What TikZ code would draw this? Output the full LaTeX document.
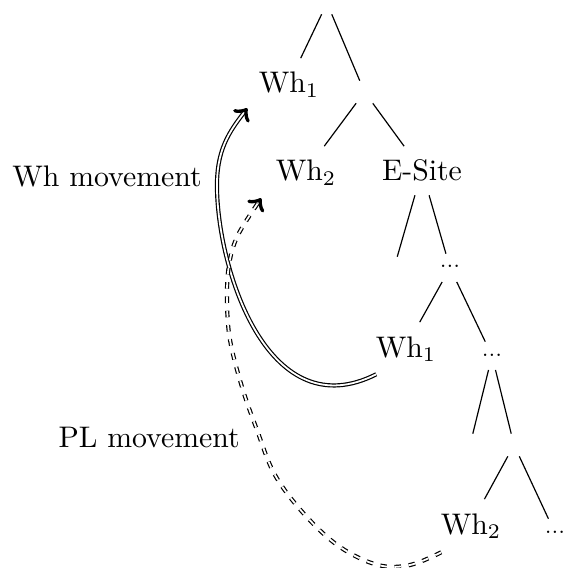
\documentclass[tikz,border=0pt]{standalone}
\begin{document}
\begin{tikzpicture}[x=0.336pt, y=0.336pt,
  tnode/.style={anchor=base, inner sep=3pt, text height=8.5pt, text depth=1.6pt},
  enode/.style={inner sep=3.6pt},
  dnode/.style={anchor=base, inner sep=3pt, text height=1.6pt, text depth=1.5pt, font=\scriptsize},
  branch/.style={line width=0.4pt},
  mov/.style={double, line width=0.4pt, double distance=0.6pt, ->},
  plmov/.style={mov, dash pattern=on 2.2pt off 2.6pt},
  lab/.style={anchor=base west, inner sep=0pt}]
\useasboundingbox (0,0) rectangle (563,-568);

% tree nodes
\node[enode] (r)  at (327,-3) {};
\node[tnode] (a)  at (289,-93) {Wh$_1$};
\node[enode] (n1) at (364.5,-92) {};
\node[tnode] (b)  at (306,-181) {Wh$_2$};
\node[tnode] (es) at (422,-181) {E-Site};
\node[enode] (e1) at (394,-268) {};
\node[dnode] (d1) at (450,-268) {...};
\node[tnode] (c)  at (406,-357) {Wh$_1$};
\node[dnode] (d2) at (492,-356) {...};
\node[enode] (e2) at (470,-445) {};
\node[enode] (n3) at (514,-445) {};
\node[tnode] (f)  at (471,-534) {Wh$_2$};
\node[dnode] (d3) at (555,-533) {...};

% branches
\draw[branch] (r) -- (a);
\draw[branch] (r) -- (n1);
\draw[branch] (n1) -- (b);
\draw[branch] (n1) -- (es);
\draw[branch] (es) -- (e1);
\draw[branch] (es) -- (d1);
\draw[branch] (d1) -- (c);
\draw[branch] (d1) -- (d2);
\draw[branch] (d2) -- (e2);
\draw[branch] (d2) -- (n3);
\draw[branch] (n3) -- (f);
\draw[branch] (n3) -- (d3);

% labels
\node[lab] (whl) at (11.7,-186.5) {Wh movement};
\node[lab] (pll) at (58,-447) {PL movement};

% movement arrows
\coordinate (ws) at ([shift={(10,-3)}]c.south west);
\coordinate (wm) at (217,-190);
\coordinate (we) at ([shift={(-2,-1)}]a.south west);
\draw[mov] (ws) .. controls (270,-428) and (219,-275) .. (wm)
                .. controls (216,-150) and (229,-132) .. (we);

\coordinate (ps) at ([shift={(10,-4)}]f.south west);
\coordinate (pe) at ([shift={(-5,-3)}]b.south west);
\draw[plmov] plot[smooth, tension=0.6] coordinates {(ps) (410,-565) (378,-565) (340,-547) (305,-515) (275,-475) (257,-430) (242,-387) (230,-340) (227,-300) (229,-265) (238,-235) (pe)};
\end{tikzpicture}
\end{document}
